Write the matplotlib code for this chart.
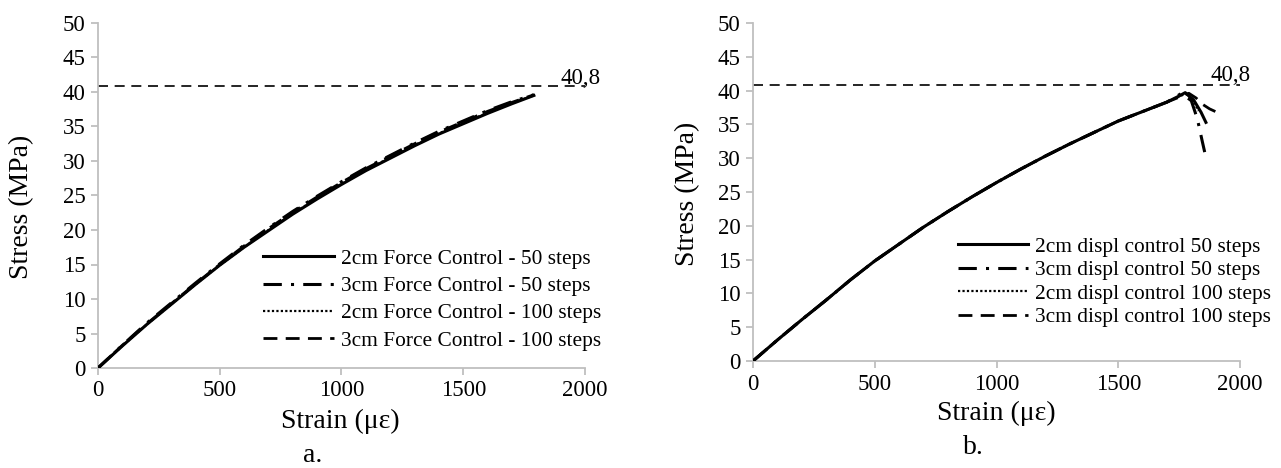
import matplotlib
matplotlib.use("Agg")
import matplotlib.pyplot as plt

plt.rcParams["font.family"] = ["Liberation Serif", "DejaVu Serif"]

# ---- data -------------------------------------------------------------
# (a) force control
strain_a = [0, 100, 200, 300, 400, 500, 600, 700, 800, 900, 1000,
            1100, 1200, 1300, 1400, 1500, 1600, 1700, 1790]
stress_a_2cm_50 = [0, 3.2, 6.3, 9.2, 12.1, 14.9, 17.5, 19.9, 22.3, 24.5, 26.6,
                   28.6, 30.4, 32.2, 33.9, 35.4, 36.9, 38.3, 39.5]
stress_a_3cm_50 = [0, 3.3, 6.5, 9.4, 12.3, 15.1, 17.8, 20.3, 22.7, 24.9, 27.0,
                   29.0, 30.8, 32.6, 34.3, 35.8, 37.3, 38.6, 39.6]
stress_a_2cm_100 = [0, 3.2, 6.3, 9.2, 12.1, 14.9, 17.5, 20.0, 22.4, 24.6, 26.7,
                    28.7, 30.5, 32.3, 34.0, 35.5, 37.0, 38.4, 39.5]
stress_a_3cm_100 = [0, 3.3, 6.4, 9.3, 12.2, 15.0, 17.7, 20.2, 22.6, 24.8, 26.9,
                    28.9, 30.7, 32.5, 34.2, 35.7, 37.2, 38.5, 39.6]
labels_a = ["2cm Force Control - 50 steps", "3cm Force Control - 50 steps",
            "2cm Force Control - 100 steps", "3cm Force Control - 100 steps"]

# (b) displacement control
strain_b_2cm_50 = [0, 100, 200, 300, 400, 500, 600, 700, 800, 900, 1000, 1100,
                   1200, 1300, 1400, 1500, 1600, 1700, 1750, 1775, 1810, 1840, 1860]
stress_b_2cm_50 = [0, 3.1, 6.1, 9.0, 12.0, 14.8, 17.3, 19.8, 22.1, 24.3, 26.4, 28.4,
                   30.3, 32.1, 33.8, 35.5, 36.9, 38.3, 39.2, 39.7, 38.6, 36.8, 35.3]
strain_b_3cm_50 = [0, 100, 200, 300, 400, 500, 600, 700, 800, 900, 1000, 1100,
                   1200, 1300, 1400, 1500, 1600, 1700, 1760, 1800, 1825, 1845, 1855]
stress_b_3cm_50 = [0, 3.1, 6.1, 9.0, 12.0, 14.8, 17.3, 19.8, 22.1, 24.3, 26.4, 28.4,
                   30.3, 32.1, 33.8, 35.5, 36.9, 38.3, 39.6, 38.5, 35.8, 32.5, 30.9]
strain_b_2cm_100 = [0, 100, 200, 300, 400, 500, 600, 700, 800, 900, 1000, 1100,
                    1200, 1300, 1400, 1500, 1600, 1700, 1780, 1810, 1830]
stress_b_2cm_100 = [0, 3.1, 6.1, 9.0, 12.0, 14.8, 17.3, 19.8, 22.1, 24.3, 26.4, 28.4,
                    30.3, 32.1, 33.8, 35.5, 36.9, 38.3, 39.6, 38.3, 37.0]
strain_b_3cm_100 = [0, 100, 200, 300, 400, 500, 600, 700, 800, 900, 1000, 1100,
                    1200, 1300, 1400, 1500, 1600, 1700, 1790, 1820, 1845, 1875, 1905]
stress_b_3cm_100 = [0, 3.1, 6.1, 9.0, 12.0, 14.8, 17.3, 19.8, 22.1, 24.3, 26.4, 28.4,
                    30.3, 32.1, 33.8, 35.5, 36.9, 38.3, 39.6, 38.9, 38.0, 37.3, 36.8]
labels_b = ["2cm displ control 50 steps", "3cm displ control 50 steps",
            "2cm displ control 100 steps", "3cm displ control 100 steps"]

limit_stress = 40.8
limit_label = "40,8"
x_ticks = [0, 500, 1000, 1500, 2000]
y_ticks = [0, 5, 10, 15, 20, 25, 30, 35, 40, 45, 50]

# ---- styling ----------------------------------------------------------
GRAY = "#bfbfbf"
TICK_FS = 16.5
LABEL_FS = 20
LEG_FS = 15.4

styles = [
    dict(color="black", lw=2.2, linestyle="-"),
    dict(color="black", lw=2.2, linestyle=(0, (6, 3, 1, 3))),
    dict(color="black", lw=1.6, linestyle=(0, (1, 1))),
    dict(color="black", lw=2.0, linestyle=(0, (5, 3))),
]


def style_axes(ax, label_x, label_dy):
    ax.set_xlim(0, 2000)
    ax.set_ylim(0, 50)
    ax.set_xticks(x_ticks)
    ax.set_yticks(y_ticks)
    for side in ("top", "right"):
        ax.spines[side].set_visible(False)
    for side in ("left", "bottom"):
        ax.spines[side].set_color(GRAY)
        ax.spines[side].set_linewidth(1.3)
    ax.tick_params(direction="out", length=5, width=1.3, color=GRAY,
                   labelsize=TICK_FS, pad=4)
    ax.axhline(limit_stress, xmin=0, xmax=1.0, color="black", lw=1.2,
               linestyle=(0, (6, 4)), zorder=1)
    ax.text(label_x, limit_stress + label_dy, limit_label, fontsize=TICK_FS,
            ha="center", va="center")


fig = plt.figure(figsize=(12.81, 4.68), dpi=100)
ax_a = fig.add_axes([98 / 1281, 1 - 368 / 468, 487 / 1281, 345 / 468])
ax_b = fig.add_axes([753 / 1281, 1 - 361 / 468, 487 / 1281, 338 / 468])

style_axes(ax_a, 1980, 1.2)
style_axes(ax_b, 1960, 1.5)

series_a = [stress_a_2cm_50, stress_a_3cm_50, stress_a_2cm_100, stress_a_3cm_100]
for ys, st, lab in zip(series_a, styles, labels_a):
    ax_a.plot(strain_a, ys, label=lab, zorder=3, **st)

series_b = [(strain_b_2cm_50, stress_b_2cm_50), (strain_b_3cm_50, stress_b_3cm_50),
            (strain_b_2cm_100, stress_b_2cm_100), (strain_b_3cm_100, stress_b_3cm_100)]
for (xs, ys), st, lab in zip(series_b, styles, labels_b):
    ax_b.plot(xs, ys, label=lab, zorder=3, **st)

ax_a.legend(loc="upper left", bbox_to_anchor=(263 / 1281, 1 - 249 / 468),
            bbox_transform=fig.transFigure, frameon=False, fontsize=LEG_FS,
            handlelength=3.3, handletextpad=0.35, labelspacing=0.34,
            borderpad=0, borderaxespad=0)
ax_b.legend(loc="upper left", bbox_to_anchor=(958 / 1281, 1 - 237 / 468),
            bbox_transform=fig.transFigure, frameon=False, fontsize=LEG_FS,
            handlelength=3.25, handletextpad=0.35, labelspacing=0.16,
            borderpad=0, borderaxespad=0)

# axis titles and panel captions
fig.text(22 / 1281, 1 - 207 / 468, "Stress (MPa)", rotation=90,
         fontsize=LABEL_FS, ha="center", va="center")
fig.text(340 / 1281, 1 - 421 / 468, "Strain (\u03bc\u03b5)",
         fontsize=LABEL_FS, ha="center", va="center")
fig.text(313 / 1281, 1 - 456 / 468, "a.", fontsize=LABEL_FS,
         ha="center", va="center")

fig.text(688 / 1281, 1 - 194 / 468, "Stress (MPa)", rotation=90,
         fontsize=LABEL_FS, ha="center", va="center")
fig.text(996 / 1281, 1 - 413 / 468, "Strain (\u03bc\u03b5)",
         fontsize=LABEL_FS, ha="center", va="center")
fig.text(973 / 1281, 1 - 448 / 468, "b.", fontsize=LABEL_FS,
         ha="center", va="center")

fig.savefig("out.png", dpi=100)
